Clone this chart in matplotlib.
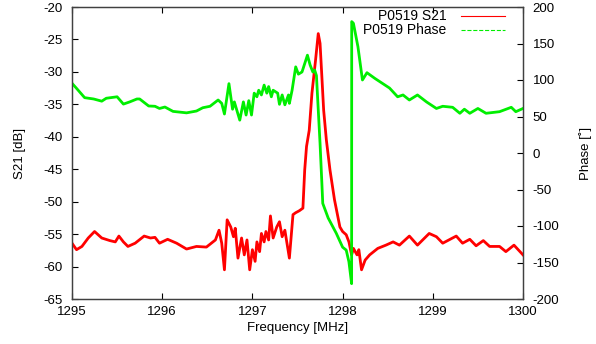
import matplotlib
matplotlib.use('Agg')
import matplotlib.pyplot as plt
from matplotlib.lines import Line2D

plt.rcParams['font.family'] = ['Liberation Sans', 'DejaVu Sans']
plt.rcParams['font.size'] = 9.5
plt.rcParams['axes.unicode_minus'] = False

# DATA #######################################################################

# S21 magnitude trace, frequency in MHz and level in dB
s21_freq = [
    1295.00, 1295.05, 1295.11, 1295.18, 1295.25, 1295.33, 1295.42, 1295.48,
    1295.52, 1295.57, 1295.62, 1295.70, 1295.80, 1295.87, 1295.92, 1295.97,
    1296.06, 1296.16, 1296.27, 1296.38, 1296.49, 1296.59, 1296.63, 1296.66,
    1296.69, 1296.72, 1296.76, 1296.79, 1296.81, 1296.84, 1296.88, 1296.91,
    1296.94, 1296.97, 1297.00, 1297.03, 1297.05, 1297.08, 1297.10, 1297.13,
    1297.15, 1297.18, 1297.20, 1297.23, 1297.27, 1297.30, 1297.33, 1297.36,
    1297.41, 1297.45, 1297.48, 1297.52, 1297.56, 1297.58, 1297.60, 1297.63,
    1297.66, 1297.70, 1297.73, 1297.75, 1297.77, 1297.79, 1297.82, 1297.86,
    1297.91, 1297.97, 1298.00, 1298.04, 1298.07, 1298.10, 1298.12, 1298.16,
    1298.18, 1298.21, 1298.25, 1298.30, 1298.39, 1298.48, 1298.56, 1298.63,
    1298.74, 1298.83, 1298.96, 1299.04, 1299.11, 1299.26, 1299.33, 1299.41,
    1299.48, 1299.56, 1299.63, 1299.74, 1299.81, 1299.90, 1300.00,
]
s21_db = [
    -56.4, -57.4, -56.9, -55.6, -54.6, -55.6, -56.0, -56.2,
    -55.3, -56.2, -56.9, -56.4, -55.3, -55.6, -55.5, -56.4,
    -55.8, -56.4, -57.3, -56.9, -57.0, -55.9, -54.4, -56.4,
    -60.5, -52.8, -53.9, -55.4, -54.1, -58.7, -55.6, -58.2,
    -55.9, -60.5, -57.4, -59.2, -56.2, -57.7, -54.9, -56.2,
    -54.6, -55.9, -52.2, -55.6, -53.9, -53.1, -55.4, -54.4,
    -58.7, -52.0, -51.7, -51.4, -51.0, -45.1, -41.5, -39.0,
    -33.3, -28.2, -24.1, -25.6, -30.7, -35.9, -40.5, -45.1,
    -49.7, -53.9, -54.6, -55.1, -56.2, -58.2, -57.2, -58.2,
    -57.4, -60.5, -59.0, -58.2, -57.2, -56.7, -56.2, -56.7,
    -55.3, -56.7, -54.9, -55.4, -56.4, -55.3, -56.4, -55.8,
    -56.8, -56.0, -56.9, -56.9, -57.7, -56.7, -58.2,
]

# Phase trace, frequency in MHz and phase in degrees
phase_freq = [
    1295.00, 1295.05, 1295.14, 1295.24, 1295.33, 1295.38, 1295.50, 1295.57,
    1295.64, 1295.72, 1295.75, 1295.85, 1295.92, 1295.97, 1296.03, 1296.12,
    1296.27, 1296.38, 1296.45, 1296.53, 1296.62, 1296.66, 1296.69, 1296.74,
    1296.78, 1296.80, 1296.86, 1296.90, 1296.93, 1296.96, 1296.99, 1297.02,
    1297.05, 1297.07, 1297.10, 1297.13, 1297.16, 1297.18, 1297.21, 1297.23,
    1297.28, 1297.30, 1297.33, 1297.36, 1297.40, 1297.41, 1297.44, 1297.48,
    1297.51, 1297.55, 1297.61, 1297.64, 1297.67, 1297.69, 1297.71, 1297.75,
    1297.77, 1297.78, 1297.84, 1297.93, 1298.00, 1298.04, 1298.07, 1298.10,
    1298.101, 1298.12, 1298.17, 1298.22, 1298.27, 1298.36, 1298.44, 1298.52,
    1298.61, 1298.67, 1298.74, 1298.83, 1298.93, 1299.04, 1299.11, 1299.22,
    1299.30, 1299.35, 1299.41, 1299.50, 1299.59, 1299.74, 1299.87, 1299.92,
    1300.00,
]
phase_deg = [
    95.5, 88.6, 75.8, 74.0, 71.0, 75.0, 77.0, 67.0,
    70.0, 74.0, 74.0, 64.4, 64.0, 61.0, 63.0, 57.0,
    55.0, 57.5, 62.0, 64.0, 72.6, 68.0, 53.4, 95.0,
    60.0, 70.0, 45.0, 70.0, 52.0, 71.7, 52.0, 82.0,
    77.0, 86.0, 79.5, 93.0, 82.0, 91.0, 77.0, 86.0,
    82.0, 66.7, 79.5, 66.0, 79.5, 68.0, 86.0, 118.0,
    108.0, 111.0, 134.0, 120.5, 111.0, 113.7, 106.0, 13.0,
    -41.0, -69.0, -89.0, -110.0, -129.0, -133.0, -149.0, -179.0,
    180.0, 177.6, 145.6, 100.0, 110.0, 102.0, 95.5, 89.0,
    77.0, 79.5, 72.6, 79.5, 70.0, 61.0, 64.0, 62.6,
    54.4, 60.0, 54.4, 61.0, 54.4, 56.6, 62.6, 56.6,
    61.0,
]

x_ticks = [1295, 1296, 1297, 1298, 1299, 1300]
s21_ticks = list(range(-65, -19, 5))
phase_ticks = list(range(-200, 201, 50))

# PLOT #######################################################################

fig = plt.figure(figsize=(5.96, 3.44), dpi=100)
ax = fig.add_axes([72 / 596, 1 - 299 / 344, (523 - 72) / 596, (299 - 7) / 344])
ax2 = ax.twinx()

ax.plot(s21_freq, s21_db, color='#ff0000', lw=2.0, zorder=3)
ax2.plot(phase_freq, phase_deg, color='#00ee00', lw=2.0, zorder=2)

ax.set_xlim(1295, 1300)
ax.set_ylim(-65, -20)
ax2.set_ylim(-200, 200)
ax.set_xticks(x_ticks)
ax.set_yticks(s21_ticks)
ax2.set_yticks(phase_ticks)

ax.tick_params(axis='x', direction='in', length=4, top=True, bottom=True, pad=5)
ax.tick_params(axis='y', direction='in', length=4, left=True, right=False, pad=7)
ax2.tick_params(axis='y', direction='in', length=4, right=True, pad=7)

for a in (ax, ax2):
    for sp in a.spines.values():
        sp.set_color('#404040')
        sp.set_linewidth(0.9)

ax.set_xlabel('Frequency [MHz]', labelpad=3)
ax.set_ylabel('S21 [dB]', labelpad=12)
ax2.set_ylabel('Phase [˚]', labelpad=14)

# key in gnuplot style: text right-justified, sample on the right
key = [('P0519 S21', '#ff0000', '-'), ('P0519 Phase', '#00ee00', '--')]
for i, (label, color, ls) in enumerate(key):
    yk = 0.969 - i * 0.048
    ax.text(0.83, yk, label, transform=ax.transAxes, ha='right', va='center',
            fontsize=10)
    ax.add_line(Line2D([0.862, 0.96], [yk, yk], transform=ax.transAxes,
                       color=color, lw=0.8, ls=ls, zorder=4))

fig.savefig('out.png', dpi=100)
